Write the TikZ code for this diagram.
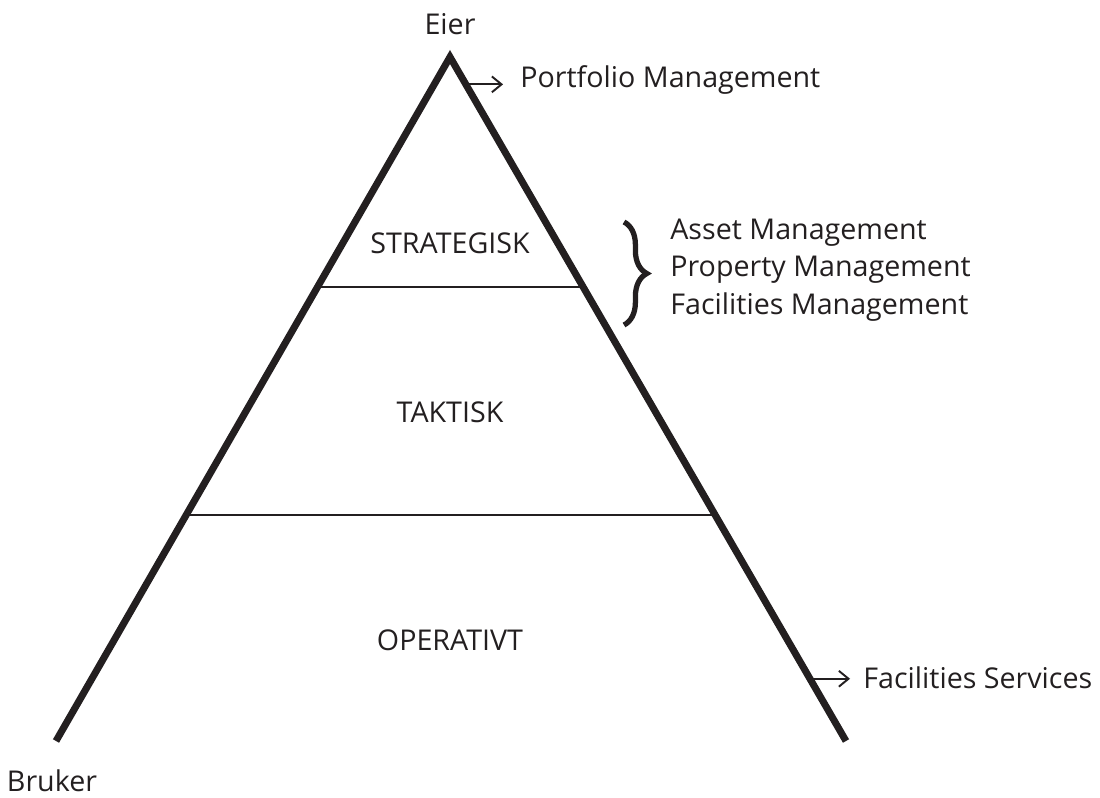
\documentclass[tikz,border=0pt]{standalone}
\usepackage{fontspec}
\setmainfont{Open Sans}
\usetikzlibrary{arrows,arrows.meta,calc,decorations.pathreplacing}
\definecolor{ink}{RGB}{35, 31, 32}
\tikzstyle{side}=[draw=ink,line width=4pt,line join=miter,line cap=butt]
\tikzstyle{divider}=[draw=ink,line width=1.1pt]
\tikzstyle{lbl}=[text=ink,inner sep=0pt,font=\fontsize{16.3}{21.3}\selectfont]
\tikzstyle{pointer}=[draw=ink,line width=1.1pt,
  -{Straight Barb[length=5.5pt,width=9pt]}]
\tikzstyle{curly}=[draw=ink,line width=3pt,decorate,
  decoration={brace,amplitude=13pt}]

\begin{document}
\begin{tikzpicture}[x=0.02cm,y=-0.02cm]
        \useasboundingbox (0,0) rectangle (1100,798);
        % pyramid
        \coordinate (top) at (450,57);
        \coordinate (lf) at (56,741);
        \coordinate (rf) at (846,741);
        \draw[style=side] (lf) -- (top) -- (rf);
        % levels
        \coordinate (l1) at ($(top)!0.336!(lf)$);
        \coordinate (r1) at ($(top)!0.336!(rf)$);
        \coordinate (l2) at ($(top)!0.670!(lf)$);
        \coordinate (r2) at ($(top)!0.670!(rf)$);
        \draw[style=divider] (l1) to (r1);
        \draw[style=divider] (l2) to (r2);
        \node[style=lbl] (strat) at (450,243) {STRATEGISK};
        \node[style=lbl] (takt) at (450,412) {TAKTISK};
        \node[style=lbl] (oper) at (450,640) {OPERATIVT};
        % ends
        \node[style=lbl] (eier) at (450,24) {Eier};
        \node[style=lbl] (bruker) at (52,781) {Bruker};
        % roles
        \coordinate (e1) at ($(top)!0.04!(rf)$);
        \coordinate (e2) at ($(top)!0.909!(rf)$);
        \node[style=lbl,anchor=west] (pm) at (520,80) {Portfolio Management};
        \node[style=lbl,anchor=west] (fs) at (863,678) {Facilities Services};
        \draw[style=pointer,shorten >=17pt*0.5669] (e1) -- (e1 -| pm.west);
        \draw[style=pointer,shorten >=13pt*0.5669] (e2) -- (e2 -| fs.west);
        \node[style=lbl,anchor=west,align=left] (mgmt) at (670,270)
          {Asset Management\\Property Management\\Facilities Management};
        \draw[style=curly] (624,222) -- (624,325);
    \end{tikzpicture}
\end{document}
